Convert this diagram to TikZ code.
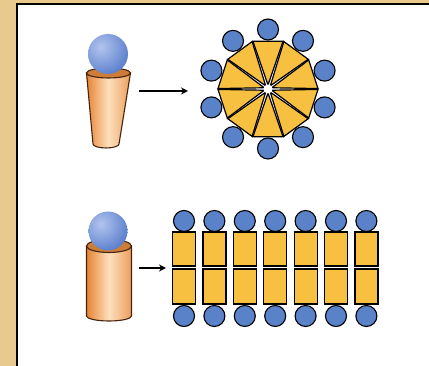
\documentclass[tikz,border=0pt]{standalone}
\usepackage{tkz-euclide}
\usetikzlibrary{arrows.meta}

\definecolor{parch}{RGB}{232,202,142}
\definecolor{head}{RGB}{90,130,200}
\definecolor{tail}{RGB}{248,192,64}
\definecolor{rim}{RGB}{205,125,55}
\definecolor{cupL}{RGB}{230,132,52}
\definecolor{cupM}{RGB}{253,224,190}
\definecolor{cupR}{RGB}{236,158,92}
\definecolor{edge}{RGB}{70,35,15}
\definecolor{ballhi}{RGB}{178,196,238}
\definecolor{balllo}{RGB}{80,118,200}

\tikzset{
  headball/.style={fill=head,draw=black,line width=1.1pt},
  tailbox/.style={fill=tail,draw=black,line width=1.2pt},
  cup/.style={left color=cupL,right color=cupR,middle color=cupM,draw=edge,line width=1.1pt},
  cuprim/.style={fill=rim,draw=edge,line width=1.1pt},
  push/.style={-{Stealth[length=7pt,width=7pt]},line width=1.3pt}
}

\begin{document}
\begin{tikzpicture}[x=1pt,y=1pt]
%\draw[help lines,step=20] (0,0) grid (429,366);
\useasboundingbox (0,0) rectangle (429,366);
\fill[parch] (0,0) rectangle (429,366);
\fill[white] (17,0) rectangle (429,362);
\draw[line width=2.2pt] (17,0) -- (17,362) -- (429,362);

\tkzDefPoint(108,312){B1}
\tkzDefPoint(108.5,293){R1}
\tkzDefPoint(139,275){A1}
\tkzDefPoint(188,275){A2}
\tkzDefPoint(268,277){M}

\tkzDefPoint(108,135){B2}
\tkzDefPoint(109,120){R2}
\tkzDefPoint(139,98){A3}
\tkzDefPoint(166,98){A4}

% cone with one lipid
\path[cup] (86.5,293) -- (93,222) arc[start angle=180,end angle=360,x radius=13,y radius=4]
  -- (130.5,293) -- cycle;
\draw[cuprim] (R1) ellipse [x radius=22,y radius=5];
\begin{scope}
  \clip (B1) circle (20);
  \shade[inner color=ballhi,outer color=balllo] ([shift={(-7,7)}]B1) circle (33);
\end{scope}

\draw[push] (A1) -- (A2);

% micelle
\begin{scope}[shift={(M)}]
  \foreach \a in {90,126,...,414}
    \draw[tailbox] (\a:4) -- (\a-17.5:50) -- (\a+17.5:50) -- cycle;
  \fill[white] (0,0) circle (4.5);
  \foreach \a in {90,126,...,414}
    \draw[headball] (\a:59.5) circle (10.5);
\end{scope}

% cylinder with one lipid
\path[cup] (86.5,120) -- (86.5,50) arc[start angle=180,end angle=360,x radius=22.5,y radius=5]
  -- (131.5,120) -- cycle;
\draw[cuprim] (R2) ellipse [x radius=22.5,y radius=6.5];
\begin{scope}
  \clip (B2) circle (19.5);
  \shade[inner color=ballhi,outer color=balllo] ([shift={(-7,7)}]B2) circle (32);
\end{scope}

\draw[push] (A3) -- (A4);

% bilayer
\foreach \i in {0,...,6}{
  \pgfmathsetmacro\xc{184+30.4*\i}
  \draw[headball] (\xc,145) circle (10.5);
  \draw[headball] (\xc,50) circle (10.5);
  \draw[tailbox] (\xc-11.5,100) rectangle (\xc+11.5,134);
  \draw[tailbox] (\xc-11.5,62) rectangle (\xc+11.5,97);
}

\end{tikzpicture}
\end{document}
